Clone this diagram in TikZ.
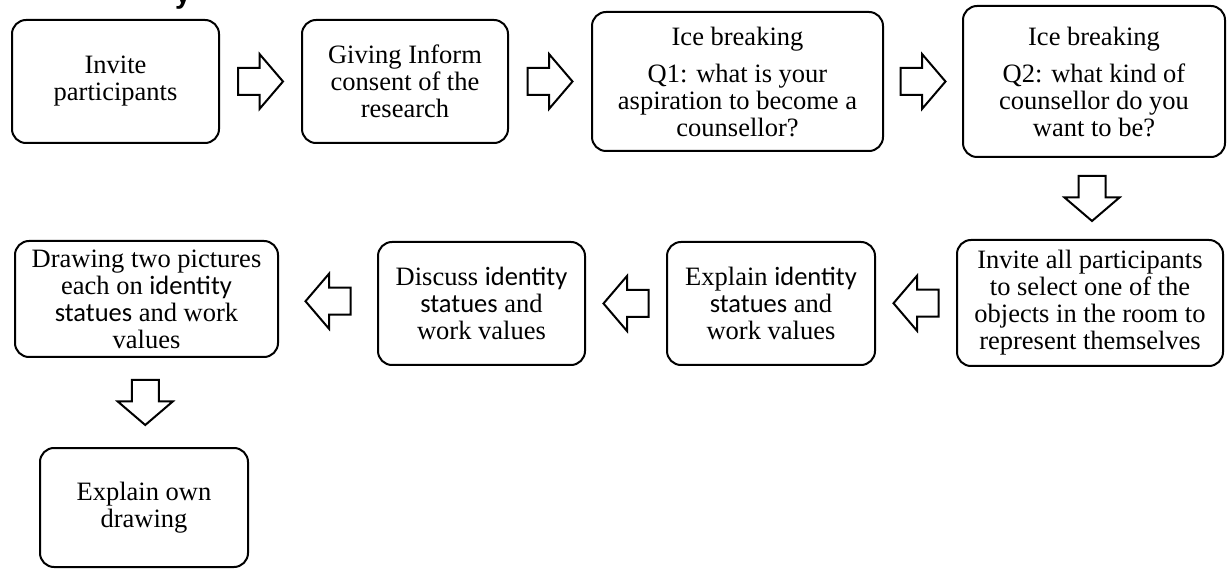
\documentclass[tikz,border=0pt]{standalone}
\usepackage{fontspec}
\setmainfont{Liberation Serif}
\newfontfamily\calfont{Carlito}
\newfontfamily\headfont{Liberation Sans}
\usetikzlibrary{calc}
\newcommand{\idf}[1]{{\calfont #1}}
\tikzset{
  box/.style={draw, line width=2pt, rounded corners=14pt, align=center, inner sep=2pt,
    font=\fontsize{26.5}{27}\selectfont},
  blockarrow/.pic={\draw[line width=2pt, line join=miter, fill=white]
    (-22.5,-13.5) -- (-1,-13.5) -- (-1,-27.5) -- (22.5,0) -- (-1,27.5) -- (-1,13.5) -- (-22.5,13.5) -- cycle;}
}
\begin{document}
\begin{tikzpicture}[x=1pt,y=-1pt]
\useasboundingbox[fill=white] (0,0) rectangle (1227,569);
\node[font=\headfont\bfseries\fontsize{28}{30}\selectfont, anchor=base, inner sep=0pt] (frag) at (183,4) {y};
% row 1
\node[box, minimum width=207pt, minimum height=123pt] (b1) at (115.5,81.5) {Invite\\participants};
\node[box, minimum width=206pt, minimum height=123pt] (b2) at (405,81.5) {Giving Inform\\consent of the\\research};
\node[box, minimum width=291pt, minimum height=139pt] (b3) at (737.5,81.5) {Ice breaking\\[10pt]Q1: what is your\\aspiration to become a\\counsellor?};
\node[box, minimum width=262pt, minimum height=151pt] (b4) at (1094,81.5) {Ice breaking\\[10pt]Q2: what kind of\\counsellor do you\\want to be?};
% row 2
\node[box, minimum width=266pt, minimum height=126pt] (b5) at (1090,303) {Invite all participants\\to select one of the\\objects in the room to\\represent themselves};
\node[box, minimum width=208pt, minimum height=123pt] (b6) at (771,303.5) {Explain \idf{identity}\\\idf{statues} and\\work values};
\node[box, minimum width=207pt, minimum height=123pt] (b7) at (481.5,303.5) {Discuss \idf{identity}\\\idf{statues} and\\work values};
\node[box, minimum width=263pt, minimum height=116pt] (b8) at (146.5,299) {Drawing two pictures\\each on \idf{identity}\\\idf{statues} and work\\values};
\node[box, minimum width=208pt, minimum height=119pt] (b9) at (144,507.5) {Explain own\\drawing};
% block arrows
\pic at ($(b1.east)!0.5!(b2.west)$) {blockarrow};
\pic at ($(b2.east)!0.5!(b3.west)$) {blockarrow};
\pic at ($(b3.east)!0.5!(b4.west)$) {blockarrow};
\pic[rotate=-90] at ($(b4.south)!0.5!(b5.north)$) {blockarrow};
\pic[rotate=180] at ($(b6.east)!0.5!(b5.west)$) {blockarrow};
\pic[rotate=180] at ($(b7.east)!0.5!(b6.west)$) {blockarrow};
\pic[rotate=180] at ($(b8.east)!0.5!(b7.west)$) {blockarrow};
\pic[rotate=-90] at ($(b8.south)!0.5!(b9.north)$) {blockarrow};
\end{tikzpicture}
\end{document}
